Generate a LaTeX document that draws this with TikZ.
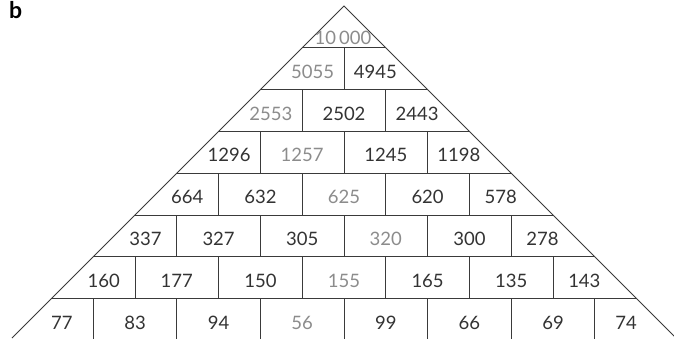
\documentclass[tikz,border=0pt]{standalone}
\usepackage{fontspec}
\setmainfont{Lato}
\definecolor{numdark}{HTML}{333333}
\definecolor{numgrey}{HTML}{8C8C8C}
\definecolor{rulegrey}{HTML}{3A3A3A}

\begin{document}
\begin{tikzpicture}[
  x=1pt, y=-1pt,
  rule/.style={draw=rulegrey, line width=0.8pt},
  num/.style={inner sep=0pt, text=numdark, font=\fontsize{18.5}{18.5}\selectfont},
  dim/.style={num, text=numgrey},
  panel/.style={inner sep=0pt, anchor=north west, font=\fontsize{23}{23}\selectfont\bfseries}
]
  \useasboundingbox (0,0) rectangle (674,338);
  \coordinate (apex) at (344,6);
  \coordinate (base-l) at (12,338);
  \coordinate (base-r) at (676,338);
  \node[panel] (label) at (9,1) {b};
  \draw[rule] (base-l) -- (apex) -- (base-r);
  % courses and joints
  \foreach \k in {1,...,7}{
    \draw[rule] ({344-41.8*\k},{6+41.8*\k}) -- ({344+41.8*\k},{6+41.8*\k});
    \foreach \i in {1,...,\k}
      \draw[rule] ({344+41.8*(2*\i-\k-1)},{6+41.8*\k}) -- +(0,41.8);
  }
  % counts, one course per line
  \foreach \row [count=\k from 0] in {
    {dim/10\,000},
    {dim/5055, num/4945},
    {dim/2553, num/2502, num/2443},
    {num/1296, dim/1257, num/1245, num/1198},
    {num/664, num/632, dim/625, num/620, num/578},
    {num/337, num/327, num/305, dim/320, num/300, num/278},
    {num/160, num/177, num/150, dim/155, num/165, num/135, num/143},
    {num/77, num/83, num/94, dim/56, num/99, num/66, num/69, num/74}}{
    \foreach \s/\v [count=\c from 0] in \row {
      \pgfmathsetmacro\cx{\k==0 ? 343 : (\c==0 ? 344+41.8*(0.25-\k) : (\c==\k ? 344+41.8*(\k-0.25) : 344+41.8*(2*\c-\k)))}
      \pgfmathsetmacro\cy{\k==0 ? 38 : 6+41.8*(\k+0.5)+3}
      \node[\s] (n-\k-\c) at (\cx,\cy) {\v};
    }
  }
\end{tikzpicture}
\end{document}
